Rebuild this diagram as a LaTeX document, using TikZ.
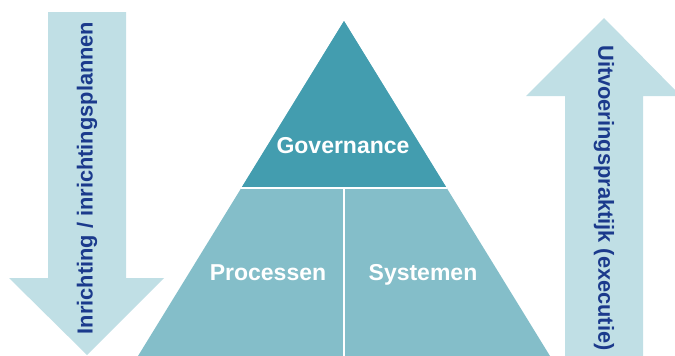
\documentclass[tikz,border=0pt]{standalone}
\usepackage{fontspec}
\setmainfont{Liberation Sans}
\usepackage{tikz}
\usetikzlibrary{positioning, calc}

\definecolor{govcol}{RGB}{67,157,175}
\definecolor{lowcol}{RGB}{132,190,201}
\definecolor{arrcol}{RGB}{192,223,229}
\definecolor{txtcol}{RGB}{27,58,140}

\begin{document}
\begin{tikzpicture}
	[x=1pt, y=-1pt,
	 arrowtext/.style={text=txtcol, font=\bfseries\fontsize{21.8}{24}\selectfont, inner sep=0pt},
	 layertext/.style={text=white, font=\bfseries\fontsize{23}{26}\selectfont, inner sep=0pt, anchor=base},
	 divider/.style={draw=white, line width=2pt}]
   \useasboundingbox (0,0) rectangle (675,356);
   \clip (0,0) rectangle (675,356);
   % pijlen
   \fill[arrcol] (48,12) -- (126,12) -- (126,278) -- (164,278) -- (87,355) -- (9,278) -- (48,278) -- cycle;
   \fill[arrcol] (565,360) -- (643,360) -- (643,96) -- (681,96) -- (604,18) -- (526,96) -- (565,96) -- cycle;
   % piramide
   \coordinate (top) at (344,21);
   \coordinate (bl) at (138,356);
   \coordinate (br) at (550,356);
   \coordinate (ml) at ($(top)!0.4985!(bl)$);
   \coordinate (mr) at ($(top)!0.4985!(br)$);
   \fill[lowcol] (top) -- (bl) -- (br) -- cycle;
   \fill[govcol] (top) -- (ml) -- (mr) -- cycle;
   \coordinate (mid) at ($(ml)!0.5!(mr)$);
   \coordinate (bot) at ($(mid |- bl)+(0,4)$);
   \draw[divider] (ml) -- (mr);
   \draw[divider] (mid) -- (bot);

   \node[layertext] (gov)  at (343,153) {Governance};
   \node[layertext] (proc) at (268,280) {Processen};
   \node[layertext] (sys)  at (423,280) {Systemen};

   \node[arrowtext, rotate=90]  (inr) at (87,178) {Inrichting / inrichtingsplannen};
   \node[arrowtext, rotate=-90] (uit) at (604,198) {Uitvoeringspraktijk (executie)};
\end{tikzpicture}
\end{document}
